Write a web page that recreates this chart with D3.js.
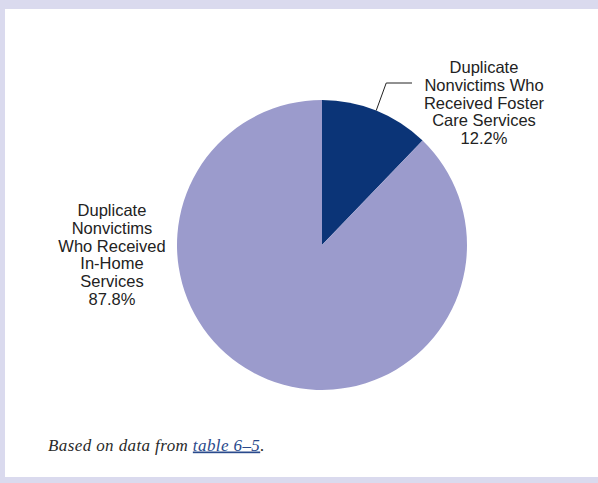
<!DOCTYPE html>
<html>
<head>
<meta charset="utf-8">
<script src="https://cdn.jsdelivr.net/npm/d3@7"></script>
<style>
  html, body { margin: 0; padding: 0; background: #dadaee; }
  svg { display: block; }
</style>
</head>
<body>
<svg id="chart" width="598" height="483"></svg>
<script>
// Share of duplicate nonvictims by type of post-response service
const categories = ["Duplicate Nonvictims Who Received Foster Care Services", "Duplicate Nonvictims Who Received In-Home Services"];
const values = [12.2, 87.8];
const colors = ["#0b3477", "#9b9bcc"];
const labelLines = [
  ["Duplicate", "Nonvictims Who", "Received Foster", "Care Services", "12.2%"],
  ["Duplicate", "Nonvictims", "Who Received", "In-Home", "Services", "87.8%"]
];

const svg = d3.select("#chart");
const W = 598, H = 483;

// white panel inside the lavender frame
svg.append("rect").attr("x", 0).attr("y", 0).attr("width", W).attr("height", H).attr("fill", "#dadaee");
svg.append("rect").attr("x", 5).attr("y", 9).attr("width", W - 5).attr("height", 468).attr("fill", "#ffffff");

const cx = 322, cy = 245, r = 145;
const g = svg.append("g").attr("transform", `translate(${cx},${cy})`);

const pie = d3.pie().sort(null).value(d => d)(values);
const arc = d3.arc().innerRadius(0).outerRadius(r);

g.selectAll("path.slice").data(pie).join("path")
  .attr("class", "slice")
  .attr("d", arc)
  .attr("fill", (d, i) => colors[i]);

// leader line for the small slice
const mid = (pie[0].startAngle + pie[0].endAngle) / 2;
const p0 = [r * Math.sin(mid), -r * Math.cos(mid)];
const p1 = [p0[0] + 10, -162];
const p2 = [90, -162];
g.append("polyline")
  .attr("points", [p0, p1, p2].map(p => p.join(",")).join(" "))
  .attr("fill", "none")
  .attr("stroke", "#222")
  .attr("stroke-width", 1);

const font = "'Liberation Sans', Arial, sans-serif";
function drawLabel(lines, x, y0) {
  const t = svg.append("text")
    .attr("text-anchor", "middle")
    .attr("font-family", font)
    .attr("font-size", 16.5)
    .attr("fill", "#222");
  lines.forEach((s, i) => {
    t.append("tspan").attr("x", x).attr("y", y0 + i * 17.8).text(s);
  });
}
drawLabel(labelLines[0], 484, 73);
drawLabel(labelLines[1], 112, 216);

// source note
const note = svg.append("text")
  .attr("x", 48).attr("y", 450.5)
  .attr("font-family", "'Liberation Serif', 'DejaVu Serif', serif")
  .attr("font-style", "italic")
  .attr("font-size", 17)
  .attr("letter-spacing", 0.4)
  .attr("fill", "#2a2a2a");
note.append("tspan").text("Based on data from ");
note.append("tspan").attr("fill", "#2a4a8c").attr("text-decoration", "underline").text("table 6\u20135");
note.append("tspan").text(".");
</script>
</body>
</html>
